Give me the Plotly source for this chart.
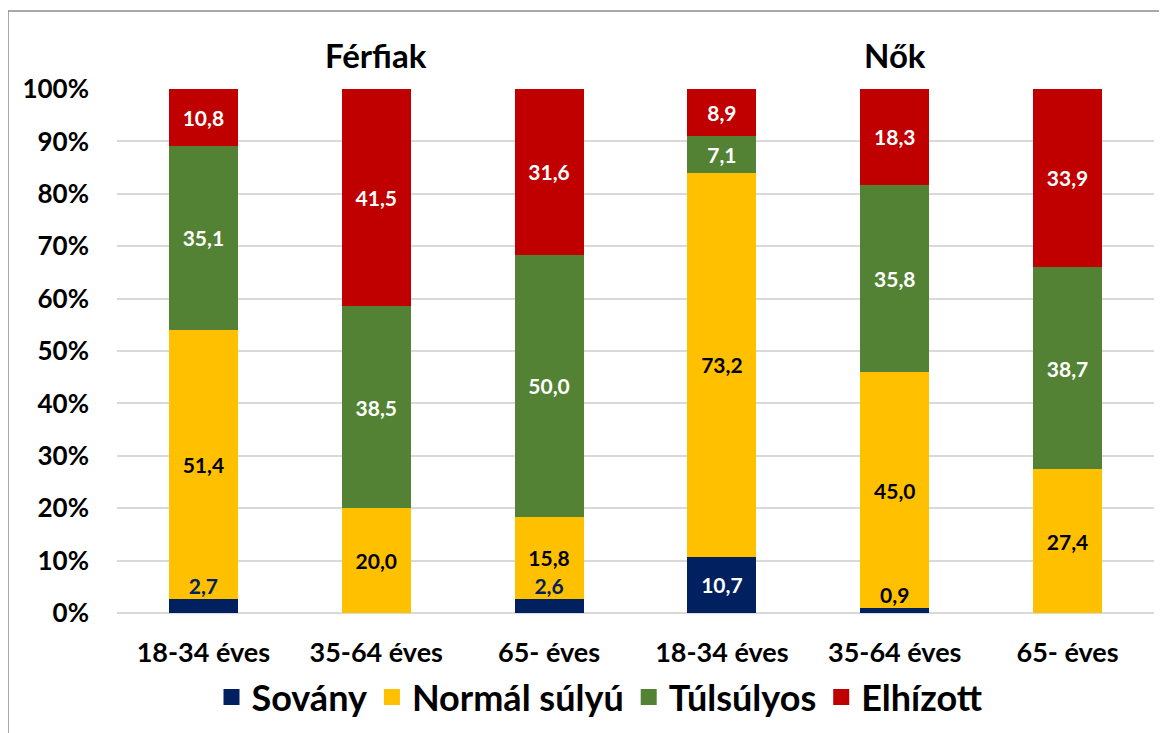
import plotly.graph_objects as go

# ---- data ----
categories = ["18-34 éves", "35-64 éves", "65- éves", "18-34 éves", "35-64 éves", "65- éves"]
groups = ["Férfiak", "Nők"]
sovany = [2.7, 0.0, 2.6, 10.7, 0.9, 0.0]
normal = [51.4, 20.0, 15.8, 73.2, 45.0, 27.4]
tulsulyos = [35.1, 38.5, 50.0, 7.1, 35.8, 38.7]
elhizott = [10.8, 41.5, 31.6, 8.9, 18.3, 33.9]
series_names = ["Sovány", "Normál súlyú", "Túlsúlyos", "Elhízott"]
y_ticks = [0, 10, 20, 30, 40, 50, 60, 70, 80, 90, 100]
y_tick_labels = [f"{v}%" for v in y_ticks]

colors = ["#002060", "#FFC000", "#548235", "#C00000"]
FONT = "Lato"
LBL = 21
x = list(range(len(categories)))

def fmt(v):
    return f"{v:.1f}".replace(".", ",")

fig = go.Figure()

series = [sovany, normal, tulsulyos, elhizott]
txt_colors = ["white", "black", "white", "white"]
for si, vals in enumerate(series):
    if si == 0:
        texts = [fmt(v) if v >= 5 else "" for v in vals]
    else:
        texts = [fmt(v) for v in vals]
    fig.add_trace(go.Bar(
        x=x, y=vals, name=series_names[si], marker_color=colors[si],
        marker_line_width=0,
        text=texts, textposition="inside", insidetextanchor="middle",
        textfont=dict(family=FONT, size=LBL, color=txt_colors[si], weight="bold"),
        constraintext="none", hoverinfo="skip", showlegend=False))

# small Sovány labels above their bars
small_idx = [i for i, v in enumerate(sovany) if 0 < v < 5]
small_colors = ["black" if sovany[i] < 1 else colors[0] for i in small_idx]
fig.add_trace(go.Scatter(
    x=[x[i] for i in small_idx], y=[sovany[i] for i in small_idx],
    mode="text", text=[fmt(sovany[i]) for i in small_idx],
    textposition="top center",
    textfont=dict(family=FONT, size=LBL, color=small_colors, weight="bold"),
    showlegend=False, hoverinfo="skip", cliponaxis=False))

# legend entries (square swatches)
for si, name in enumerate(series_names):
    fig.add_trace(go.Scatter(
        x=[None], y=[None], mode="markers", name=name,
        marker=dict(symbol="square", size=20, color=colors[si]),
        showlegend=True, hoverinfo="skip"))

OFF = 8  # page body margin
L, R, T, B = 117 - OFF, 13, 89 - OFF, 120
W, H = 1167 - OFF, 733 - OFF
pw, ph = W - L - R, H - T - B

# group titles
for gi, g in enumerate(groups):
    fig.add_annotation(
        x=1 + gi * 3, y=1 + (89 - 55) / ph, xref="x", yref="paper",
        text=g, showarrow=False, yanchor="middle",
        font=dict(family=FONT, size=33, color="black", weight="bold"))

# outer border
fig.add_shape(type="rect", xref="paper", yref="paper",
              x0=(8 - 117) / pw, x1=(1175 - 117) / pw,
              y0=-(B + 20) / ph, y1=1 + (89 - 11) / ph,
              line=dict(color="#8c8c8c", width=1.5), fillcolor="rgba(0,0,0,0)")

fig.update_layout(
    width=W, height=H,
    margin=dict(l=L, r=R, t=T, b=B, autoexpand=False),
    barmode="stack", barnorm="percent", bargap=0.6,
    plot_bgcolor="white", paper_bgcolor="white",
    font=dict(family=FONT, color="black"),
    xaxis=dict(tickvals=x, ticktext=categories, range=[-0.5, len(x) - 0.5],
               showgrid=False, zeroline=False, showline=False, ticks="",
               ticklabelstandoff=21,
               tickfont=dict(family=FONT, size=27, color="black", weight="bold")),
    yaxis=dict(range=[0, 100], tickvals=y_ticks, ticktext=y_tick_labels,
               showgrid=True, gridcolor="#d9d9d9", gridwidth=1.5,
               zeroline=True, zerolinecolor="#d9d9d9", zerolinewidth=1.5,
               showline=False, ticks="", ticklen=0, ticklabelstandoff=27,
               tickfont=dict(family=FONT, size=26, color="black", weight="bold")),
    legend=dict(orientation="h", x=(600 - 117) / pw, xanchor="center",
                y=-(697 - 613) / ph, yanchor="middle",
                font=dict(family=FONT, size=36, color="black", weight="bold"),
                itemsizing="trace", traceorder="normal", bgcolor="rgba(0,0,0,0)"),
)

fig.write_html("out.html")
